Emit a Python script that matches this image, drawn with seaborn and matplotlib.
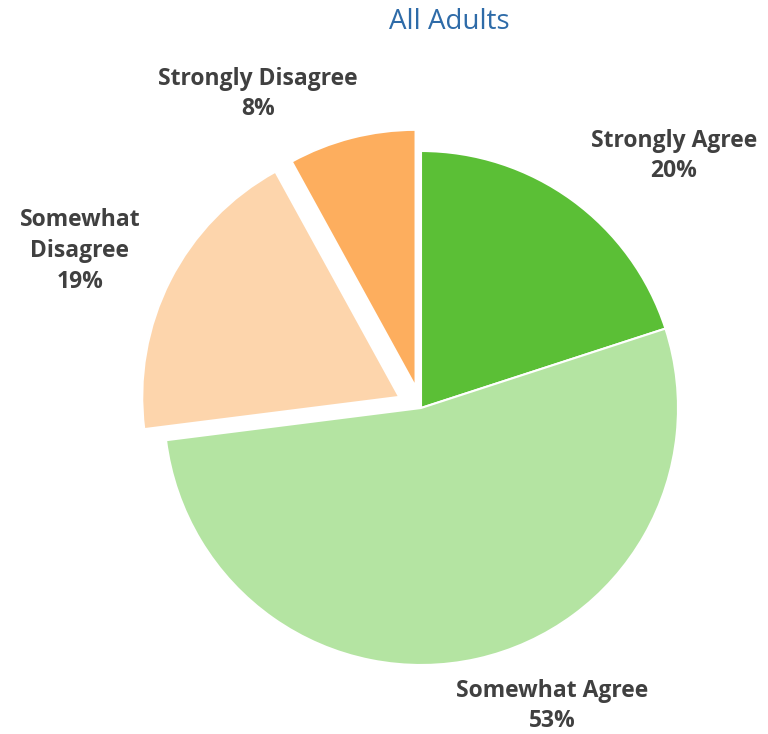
import matplotlib
matplotlib.use("Agg")
import matplotlib.pyplot as plt
import seaborn as sns

# Survey responses, all adults
categories = ["Strongly Agree", "Somewhat Agree", "Somewhat Disagree", "Strongly Disagree"]
label_text = ["Strongly Agree", "Somewhat Agree", "Somewhat\nDisagree", "Strongly Disagree"]
percent = [20, 53, 19, 8]
colors = ["#5BBF36", "#B4E4A2", "#FDD5AC", "#FDAE5E"]
explode_frac = [0.0, 0.0, 0.095, 0.085]

sns.set_theme(style="white")
plt.rcParams["font.family"] = ["Open Sans", "DejaVu Sans"]

W, H = 768, 734
fig = plt.figure(figsize=(W / 100, H / 100), dpi=100)
ax = fig.add_axes([0, 0, 1, 1])

cx, cy, r = 421, H - 408, 257
ax.pie(percent, colors=colors, startangle=90, counterclock=False,
       explode=[e * r for e in explode_frac], center=(cx, cy), radius=r,
       wedgeprops=dict(edgecolor="white", linewidth=1.5))

ax.set_xlim(0, W)
ax.set_ylim(0, H)
ax.set_aspect("equal")
ax.axis("off")

# Data labels (category name + value)
label_pos = [(674, H - 156), (552, H - 706), (80, H - 251), (258, H - 94)]
for txt, v, (x, y) in zip(label_text, percent, label_pos):
    ax.text(x, y, f"{txt}\n{v}%", ha="center", va="center", fontsize=16.5,
            fontweight="bold", color="#404040", linespacing=1.38)

ax.text(449, H - 22, "All Adults", ha="center", va="center", fontsize=20,
        color="#2E6BA8")

fig.savefig("out.png", dpi=100)
